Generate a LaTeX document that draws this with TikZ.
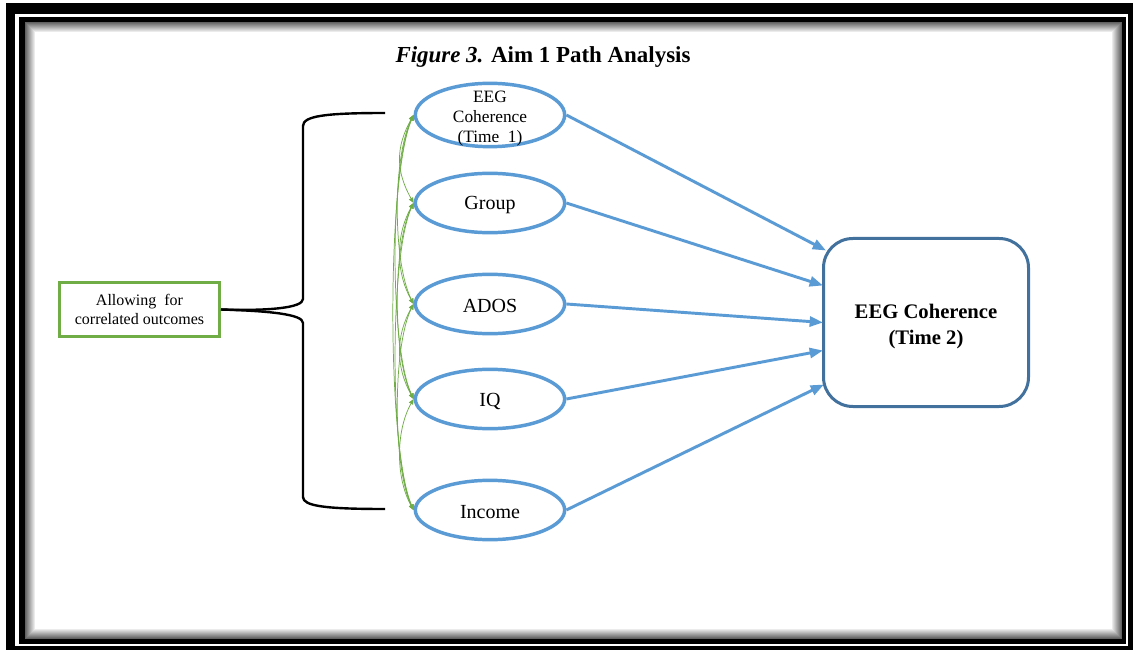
\documentclass[tikz,border=0pt]{standalone}
\usepackage{fontspec}
\setmainfont{Liberation Serif}
\usetikzlibrary{shapes.geometric,arrows.meta,calc}
\definecolor{eblue}{HTML}{5B9BD5}
\definecolor{bblue}{HTML}{41719C}
\definecolor{cgreen}{HTML}{70AD47}
\begin{document}
\begin{tikzpicture}[x=0.75pt,y=-0.75pt,
  pred/.style={ellipse, draw=eblue, line width=2.6pt, minimum width=112pt,
    minimum height=44.5pt, inner sep=0pt},
  lbl/.style={align=center, inner sep=0pt, yshift=-1.8pt, font=\fontsize{15}{17}\selectfont},
  flow/.style={draw=eblue, line width=2.2pt, -{Triangle[length=10pt,width=7.5pt]}},
  corr/.style={draw=cgreen, line width=0.55pt,
    {Triangle[length=4pt,width=3.5pt]}-{Triangle[length=4pt,width=3.5pt]}},
  bracestyle/.style={draw=black, line width=1.8pt},
]
\useasboundingbox (0,0) rectangle (1135,652);
% frame
\fill[black] (6,3) rectangle (1133,650);
\fill[white] (15,14) rectangle (1128,646);
\fill[black] (19,17) rectangle (1126,644);
\fill[white] (25,22) rectangle (1122,639);
\foreach \i [evaluate=\i as \g using int(62-6*\i)] in {0,...,9}
  \draw[line width=0.75pt, black!\g] (25.5+\i,22.5+\i) rectangle (1121.5-\i,638.5-\i);

% title
\node[font=\fontsize{17.2}{20}\selectfont\bfseries] (title) at (543,57)
  {\textit{Figure 3.} Aim 1 Path Analysis};

% predictors
\node[pred, minimum height=47.5pt, label={[lbl, yshift=-1.2pt, font=\fontsize{13}{15}\selectfont]center:EEG\\Coherence\\(Time\ \ 1)}] (e1) at (490,115) {};
\node[pred, label={[lbl]center:Group}] (e2) at (490,203) {};
\node[pred, label={[lbl]center:ADOS}] (e3) at (490,304) {};
\node[pred, label={[lbl]center:IQ}] (e4) at (490,399) {};
\node[pred, label={[lbl]center:Income}] (e5) at (490,510) {};

% outcome
\node[draw=bblue, line width=2.25pt, rounded corners=22pt, minimum width=153.75pt,
  minimum height=126pt,
  label={[align=center, inner sep=0pt, yshift=-3pt, font=\fontsize{15.5}{19}\selectfont\bfseries]center:EEG Coherence\\(Time 2)}]
  (out) at (926,322.5) {};

% paths
\draw[flow] (e1.east) -- ($(out.west)+(4,-72)$);
\draw[flow] (e2.east) -- ($(out.west)+(1,-37)$);
\draw[flow] (e3.east) -- ($(out.west)+(1,0)$);
\draw[flow] (e4.east) -- ($(out.west)+(1,28)$);
\draw[flow] (e5.east) -- ($(out.west)+(2,62)$);

% correlations
\foreach \a/\b/\k in {1/2/1,2/3/1,3/4/1,4/5/1,1/3/2,2/4/2,3/5/2,1/4/3,2/5/3,1/5/4}
  \draw[corr] (e\a.west) .. controls +({-(15+3*\k)},{22+10*\k}) and +({-(15+3*\k)},{-(22+10*\k)}) .. (e\b.west);

% allowing box
\node[draw=cgreen, line width=2.25pt, minimum width=120pt, minimum height=40.5pt,
  align=center, font=\fontsize{12}{14}\selectfont] (allow) at (139.5,309.5)
  {Allowing\ \ for\\correlated outcomes};

% brace
\coordinate (bt) at (385,113);
\coordinate (bb) at (385,509);
\draw[bracestyle] (bt) .. controls (325,113) and (303,116) .. (303,126)
  -- (303,299) .. controls (303,308) and (268,311) .. (allow.east);
\draw[bracestyle] (allow.east) .. controls (268,311) and (303,314) .. (303,323)
  -- (303,497) .. controls (303,506) and (325,509) .. (bb);
\end{tikzpicture}
\end{document}
